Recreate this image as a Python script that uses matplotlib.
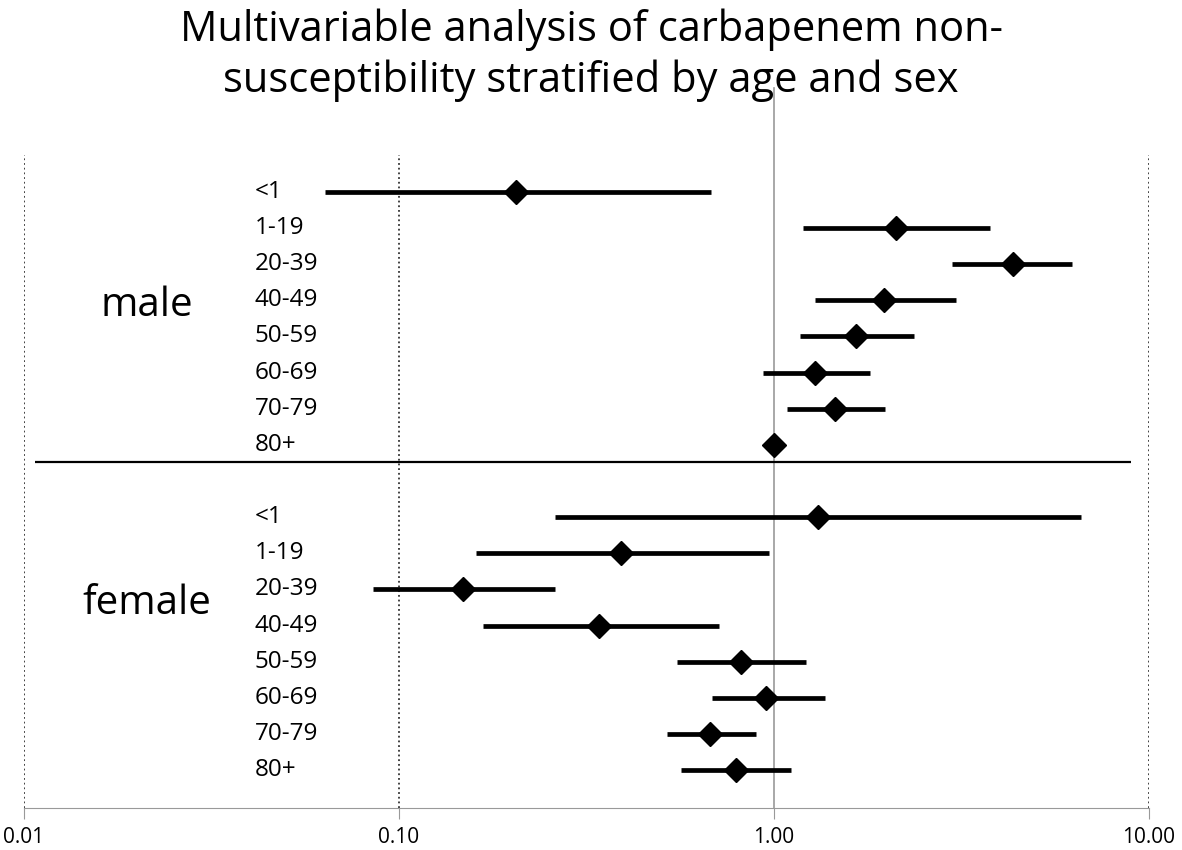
import numpy as np
import matplotlib.pyplot as plt

plt.rcParams['font.family'] = ['Open Sans', 'DejaVu Sans']

groups = ["<1", "1-19", "20-39", "40-49", "50-59", "60-69", "70-79", "80+"]

male_or = [0.205, 2.11, 4.34, 1.97, 1.65, 1.29, 1.45, 1.00]
male_lo = [0.0635, 1.195, 2.98, 1.29, 1.17, 0.935, 1.08, 1.00]
male_hi = [0.679, 3.77, 6.23, 3.06, 2.36, 1.80, 1.98, 1.00]

female_or = [1.31, 0.391, 0.148, 0.341, 0.817, 0.952, 0.675, 0.792]
female_lo = [0.261, 0.160, 0.0853, 0.168, 0.551, 0.683, 0.518, 0.565]
female_hi = [6.59, 0.97, 0.261, 0.713, 1.22, 1.37, 0.895, 1.11]

fig = plt.figure(figsize=(11.82, 8.5), dpi=100)
ax = fig.add_axes([24/1182, 42/850, 1125/1182, 653/850])

y_male = np.arange(len(groups))
y_female = np.arange(len(groups)) + 9

for ys, orr, lo, hi in [(y_male, male_or, male_lo, male_hi),
                        (y_female, female_or, female_lo, female_hi)]:
    ax.hlines(ys, lo, hi, color="black", lw=3.4, zorder=3)
    ax.plot(orr, ys, "D", color="black", ms=12, zorder=4)
    for y, g in zip(ys, groups):
        ax.text(0.205, y, g, transform=ax.get_yaxis_transform(),
                ha="left", va="center", fontsize=17.5)

ax.set_xscale("log")
ax.set_xlim(0.01, 10)
ax.set_ylim(17.05, -1.02)

# gridlines
for x in [0.01, 0.1, 10]:
    ax.axvline(x, color="#333333", lw=1.3, ls=(0, (1, 1.6)), zorder=1)
ax.axvline(1, ymin=0, ymax=720/653, color="#999999", lw=1.2, zorder=2, clip_on=False)

ax.hlines(7.47, 0.0107, 8.95, color="black", lw=1.6, zorder=2)

ax.text(0.109, 3.15, "male", transform=ax.get_yaxis_transform(),
        ha="center", va="center", fontsize=29)
ax.text(0.109, 11.4, "female", transform=ax.get_yaxis_transform(),
        ha="center", va="center", fontsize=29)

ax.set_xticks([0.01, 0.1, 1, 10])
ax.set_xticklabels(["0.01", "0.10", "1.00", "10.00"], fontsize=15)
ax.xaxis.set_minor_locator(plt.NullLocator())
ax.set_yticks([])
for s in ["top", "left", "right"]:
    ax.spines[s].set_visible(False)
ax.spines["bottom"].set_color("#999999")
ax.tick_params(axis="x", direction="out", length=8, color="#999999", pad=6)

fig.suptitle("Multivariable analysis of carbapenem non-\nsusceptibility stratified by age and sex",
             x=0.5, y=0.99, fontsize=30, linespacing=1.25)

fig.savefig("out.png", dpi=100)
